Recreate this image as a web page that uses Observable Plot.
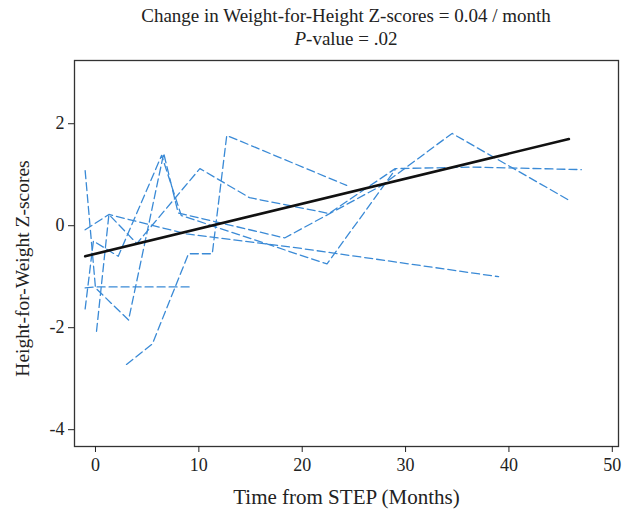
<!DOCTYPE html>
<html>
<head>
<meta charset="utf-8">
<script src="https://cdn.jsdelivr.net/npm/d3@7"></script>
<script src="https://cdn.jsdelivr.net/npm/@observablehq/plot@0.6"></script>
<style>
  html, body { margin: 0; padding: 0; background: #fff; }
  #wrap { width: 629px; position: relative; font-family: "Liberation Serif", "Times New Roman", serif; color: #222; }
  #title { height: 59px; width: 544px; margin-left: 74px; text-align: center; }
  #t1 { font-size: 19px; line-height: 23px; padding-top: 4px; }
  #t2 { font-size: 19px; line-height: 23px; }
  svg { display: block; }
</style>
</head>
<body>
<div id="wrap">
  <div id="title">
    <div id="t1">Change in Weight-for-Height Z-scores = 0.04 / month</div>
    <div id="t2"><i>P</i>-value = .02</div>
  </div>
  <div id="chart"></div>
</div>
<script>
// Individual trajectories (time in months, z-score)
const s1Time = [3, 5.5, 9, 11.3, 12.7, 24.3];
const s1Z    = [-2.72, -2.32, -0.55, -0.55, 1.77, 0.79];
const s2Time = [-1, 0, 9.2];
const s2Z    = [-1.22, -1.2, -1.2];
const s3Time = [-1, 0, 3.2, 6.6, 8, 18.3, 27.7, 34.5, 45.9];
const s3Z    = [1.08, -1.22, -1.85, 1.42, 0.25, -0.24, 0.79, 1.81, 0.49];
const s4Time = [0.1, 1.3, 4, 10.1, 14.9, 22.6, 29, 36.5, 47];
const s4Z    = [-2.07, 0.22, -0.35, 1.12, 0.55, 0.24, 1.12, 1.15, 1.1];
const s5Time = [-1, 1.3, 8.8, 19, 39];
const s5Z    = [-0.08, 0.22, -0.16, -0.42, -1.0];
const s6Time = [-1, -0.2, 2.2, 6.4, 8.3, 22.4, 29];
const s6Z    = [-1.63, -0.3, -0.6, 1.38, 0.2, -0.75, 1.1];

// Fitted trend (0.04 / month)
const trendTime = [-1, 45.8];
const trendZ    = [-0.6, 1.7];

const xTicks = [0, 10, 20, 30, 40, 50];
const yTicks = [-4, -2, 0, 2];

const series = [
  [s1Time, s1Z], [s2Time, s2Z], [s3Time, s3Z],
  [s4Time, s4Z], [s5Time, s5Z], [s6Time, s6Z]
];
const rows = series.flatMap(([t, z], i) => t.map((d, j) => ({id: i, time: d, z: z[j]})));
const trend = trendTime.map((d, i) => ({time: d, z: trendZ[i]}));

const font = "Liberation Serif";

const plot = Plot.plot({
  width: 629,
  height: 462,
  marginTop: 1,
  marginLeft: 74,
  marginRight: 11,
  marginBottom: 75,
  style: {fontFamily: font, background: "#fff", color: "#222"},
  x: {domain: [-2.03, 50.6]},
  y: {domain: [-4.33, 3.24]},
  marks: [
    Plot.frame({stroke: "#333", strokeWidth: 1.3}),
    Plot.axisX({ticks: xTicks, tickSize: 6, tickPadding: 6, fontSize: 18, fontFamily: font, label: null, tickFormat: d => String(d), stroke: "#222"}),
    Plot.axisY({ticks: yTicks, tickSize: 6, tickPadding: 4, fontSize: 18, fontFamily: font, label: null, tickFormat: d => String(d), stroke: "#222"}),
    Plot.line(rows, {x: "time", y: "z", z: "id", stroke: "#3a8ad6", strokeWidth: 1.3, strokeDasharray: "8,4"}),
    Plot.line(trend, {x: "time", y: "z", stroke: "#111", strokeWidth: 2.6}),
    Plot.text(["Time from STEP (Months)"], {frameAnchor: "bottom", dy: 51, fontSize: 21, fontFamily: font, fill: "#222", lineAnchor: "middle"}),
    Plot.text(["Height-for-Weight Z-scores"], {frameAnchor: "left", dx: -52, dy: 15, rotate: -90, fontSize: 19.5, fontFamily: font, fill: "#222", textAnchor: "middle", lineAnchor: "middle"})
  ]
});
document.getElementById("chart").appendChild(plot);
</script>
</body>
</html>
